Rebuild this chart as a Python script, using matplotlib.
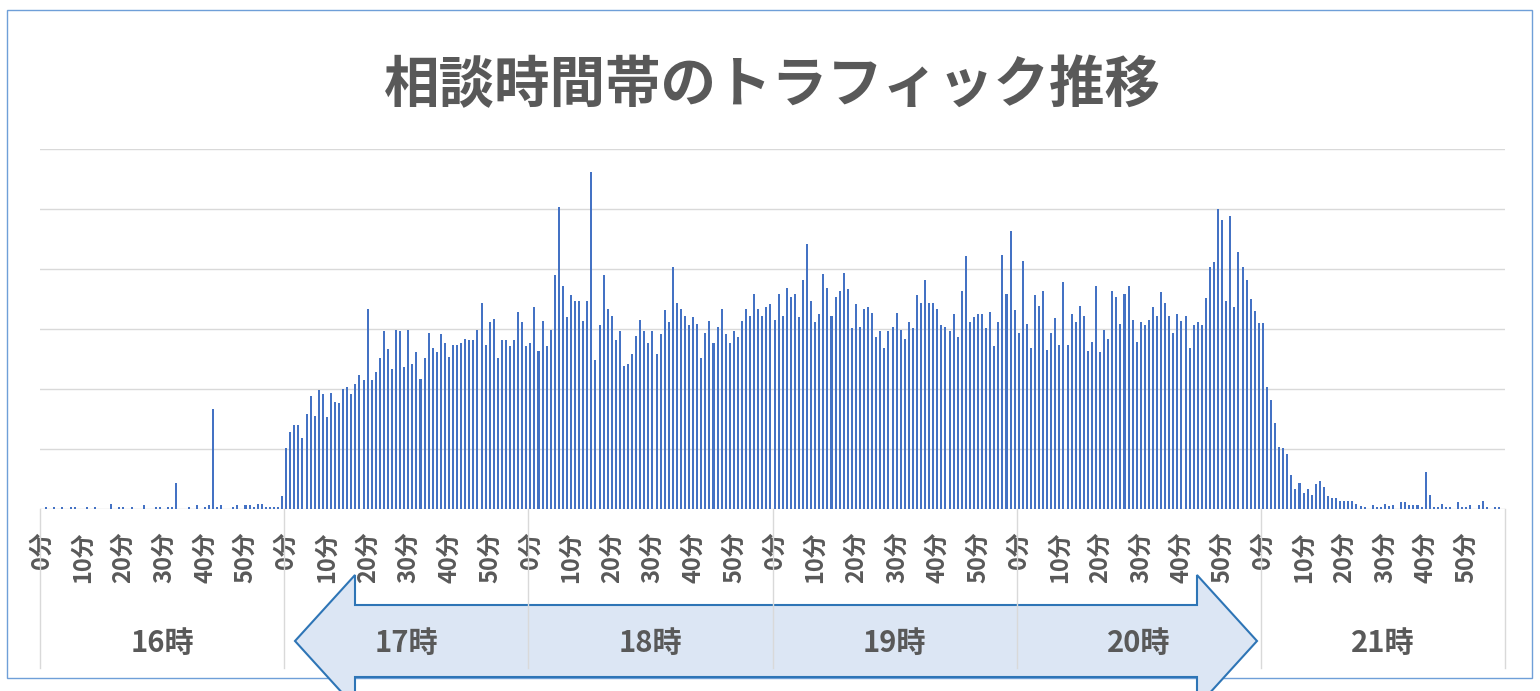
import numpy as np
import matplotlib
matplotlib.use('Agg')
import matplotlib.pyplot as plt
from matplotlib.patches import Polygon, Rectangle
from matplotlib.transforms import blended_transform_factory

plt.rcParams['font.family'] = ['Noto Sans CJK JP', 'DejaVu Sans']

title = '相談時間帯のトラフィック推移'
hours = ['16時', '17時', '18時', '19時', '20時', '21時']
minute_labels = ['0分', '10分', '20分', '30分', '40分', '50分']

# traffic per minute, one list per hour (0..59 min)
h16 = [0, 0.4, 0, 0.4, 0, 0.4, 0, 0.4, 0.4, 0,
       0, 0.4, 0, 0.4, 0, 0, 0, 0.9, 0, 0.4,
       0.4, 0, 0.4, 0, 0, 0.7, 0, 0, 0.4, 0.4,
       0, 0.4, 0.4, 4.4, 0, 0, 0.4, 0, 0.7, 0,
       0.4, 0.7, 16.7, 0.4, 0.7, 0, 0, 0.4, 0.7, 0,
       0.7, 0.7, 0.4, 0.9, 0.9, 0.4, 0.4, 0.4, 0.4, 2.2]
h17 = [10.1, 12.8, 14, 14, 11.9, 15.9, 18.8, 15.5, 19.8, 19.1,
       15.3, 19.3, 17.9, 17.6, 20, 20.3, 19.1, 20.8, 22.4, 21.5,
       33.4, 21.5, 22.9, 25.1, 29.6, 26.7, 23.4, 29.8, 29.6, 23.6,
       29.8, 24.1, 26.1, 21.7, 25.1, 29.4, 26.9, 26.1, 29.1, 27.7,
       25.3, 27.4, 27.4, 27.7, 28.4, 28.2, 28.2, 29.8, 34.4, 27.4,
       31.2, 31.7, 25.1, 28.2, 28.2, 27.2, 28.2, 32.9, 31.1, 27.2]
h18 = [27.7, 33.7, 26.3, 31.3, 27.2, 29.8, 39, 50.3, 37.1, 32,
       35.6, 34.6, 34.6, 31.3, 34.6, 56.2, 24.8, 30.6, 39, 33.4,
       32.2, 28.2, 29.6, 23.8, 24.1, 25.8, 28.9, 31.5, 29.6, 27.7,
       29.6, 25.8, 29.2, 33.2, 31.1, 40.4, 34.4, 33.4, 32.2, 30.6,
       32, 30.8, 25.1, 29.4, 31.3, 27.7, 30.3, 33.4, 29.2, 27.7,
       29.6, 28.6, 31.3, 33.4, 32.2, 35.8, 33.4, 32.2, 33.7, 34.2]
h19 = [31.5, 35.8, 32.2, 36.8, 35.4, 35.8, 32, 38.2, 44.2, 34.6,
       31.1, 32.5, 39.2, 36.8, 32.2, 35.4, 36.3, 39.4, 36.6, 30.1,
       34.2, 30.3, 33.4, 33.7, 32.7, 28.6, 29.6, 26.9, 29.6, 30.3,
       32.7, 29.8, 28.4, 31.1, 30.1, 35.6, 34.4, 38.2, 34.4, 34.4,
       33.4, 30.6, 30.3, 29.6, 32.5, 28.6, 36.3, 42.1, 31.1, 32,
       32.5, 32.5, 30.1, 32.9, 27.2, 31.1, 42.3, 35.8, 46.4, 33.2]
h20 = [29.4, 41.4, 30.8, 26.9, 35.6, 33.9, 36.3, 26.5, 29.4, 31.8,
       27.4, 37.8, 27.4, 32.5, 31.1, 33.9, 32.2, 26.3, 27.9, 37.1,
       26.1, 29.8, 28.4, 36.3, 35.4, 30.8, 35.8, 37.1, 31.5, 27.9,
       31.1, 30.6, 31.5, 33.7, 32.2, 36.1, 34.4, 32.2, 29.4, 32.5,
       31.3, 32.2, 26.9, 30.6, 31.1, 30.6, 35.1, 40.4, 41.1, 50,
       48.1, 34.6, 48.8, 33.7, 42.8, 40.4, 38.2, 35, 33, 31]
h21 = [31, 20.3, 18.2, 14.4, 10.4, 10.1, 9.2, 5.6, 3.4, 4.4,
       2.6, 3.4, 2.3, 4.2, 4.7, 3.7, 2.1, 1.9, 1.9, 1.4,
       1.4, 1.4, 1.4, 0.8, 0.5, 0.4, 0, 0.6, 0.4, 0.4,
       0.9, 0.5, 0.6, 0, 1.1, 1.1, 0.6, 0.6, 0.6, 0.4,
       6.1, 2.3, 0.4, 0.4, 0.8, 0.4, 0.4, 0, 1.1, 0.4,
       0.4, 0.6, 0, 0.6, 1.4, 0.4, 0, 0.4, 0.4, 0]

values = np.array(h16 + h17 + h18 + h19 + h20 + h21)
n = len(values)

W, H = 1540, 691
fig = plt.figure(figsize=(W / 100, H / 100), dpi=100)
gray = '#595959'

# plot area in pixels
x0, x1, ybase, ytop = 40, 1505, 509, 149
ax = fig.add_axes([x0 / W, (H - ybase) / H, (x1 - x0) / W, (ybase - ytop) / H])
ax.patch.set_visible(False)
ax.bar(np.arange(n) + 0.5, values, width=0.5, color='#4472c4', linewidth=0)
ax.set_xlim(0, n)
ax.set_ylim(0, 60)
ax.set_yticks(np.arange(0, 61, 10))
ax.yaxis.grid(True, color='#d9d9d9', linewidth=1)
ax.set_axisbelow(True)
ax.tick_params(axis='y', left=False, labelleft=False)
for s in ax.spines.values():
    s.set_visible(False)

ticks = np.arange(0, n, 10) + 0.5
ax.set_xticks(ticks)
ax.set_xticklabels(minute_labels * len(hours), rotation=90, va='top', ha='center',
                   fontsize=17, color=gray, fontweight='bold')
ax.tick_params(axis='x', length=0, pad=16)

trans = blended_transform_factory(ax.transData, ax.transAxes)
for k in range(len(hours) + 1):
    ax.plot([k * 60, k * 60], [0, -(668 - ybase) / (ybase - ytop)], color='#d9d9d9',
            lw=1, transform=trans, clip_on=False)
for k, h in enumerate(hours):
    ax.text(k * 60 + 30, -(643 - ybase) / (ybase - ytop), h, transform=trans,
            ha='center', va='center', fontsize=21, color=gray, fontweight='bold')

fig.text((x0 + x1) / 2 / W, 1 - 86 / H, title, ha='center', va='center',
         fontsize=40, color=gray, fontweight='bold')

# double arrow overlay (pixel coords, y from top), drawn behind the axes
cy = 641
pts = [(295, cy), (355, cy - 66), (355, cy - 36), (1197, cy - 36), (1197, cy - 66),
       (1257, cy), (1197, cy + 66), (1197, cy + 36), (355, cy + 36), (355, cy + 66)]
pts = [(px / W, 1 - py / H) for px, py in pts]
fig.patches.append(Polygon(pts, closed=True, transform=fig.transFigure,
                           facecolor='#dce6f4', edgecolor='#2e75b6', lw=1.5, zorder=-1))

fig.patches.append(Rectangle((7 / W, 1 - 678 / H), 1525 / W, 668 / H, transform=fig.transFigure,
                             fill=False, edgecolor='#6f9fd8', lw=1, zorder=-2))

fig.savefig('out.png', dpi=100)
